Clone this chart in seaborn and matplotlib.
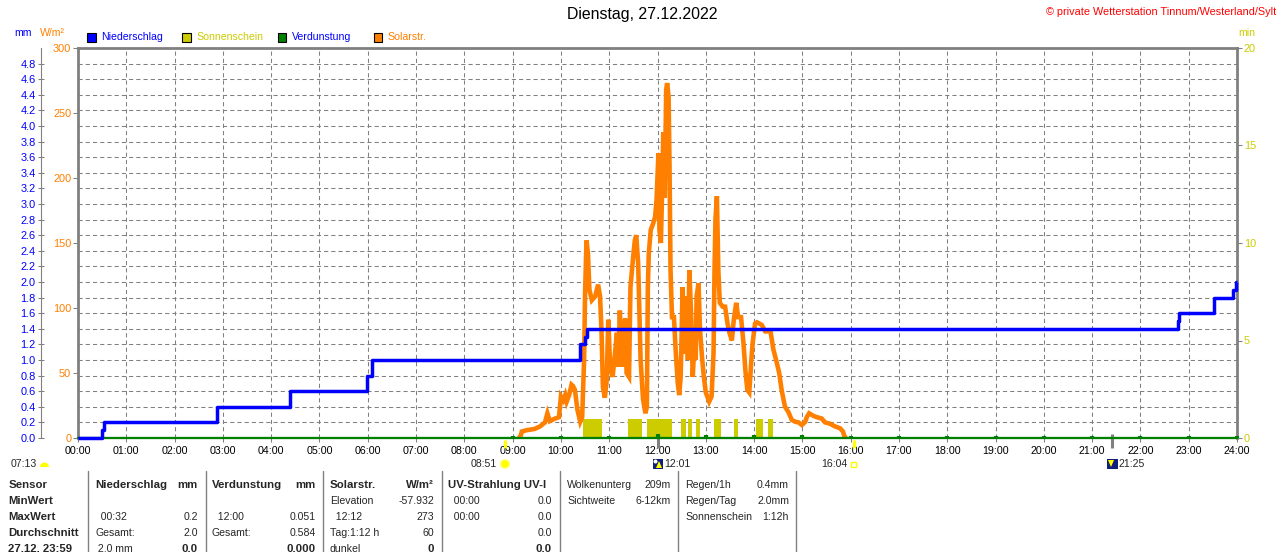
import matplotlib
matplotlib.use("Agg")
import matplotlib.pyplot as plt
import matplotlib.patches as mpatches
import matplotlib.transforms as mtransforms
from matplotlib.lines import Line2D
from matplotlib.ticker import MultipleLocator
import numpy as np
import pandas as pd
import seaborn as sns

# ---------------- data ----------------
title = "Dienstag, 27.12.2022"
credit = "© private Wetterstation Tinnum/Westerland/Sylt"

hour_ticks = [0, 1, 2, 3, 4, 5, 6, 7, 8, 9, 10, 11, 12, 13, 14, 15, 16, 17, 18, 19, 20, 21, 22, 23, 24]
hour_labels = ["00:00", "01:00", "02:00", "03:00", "04:00", "05:00", "06:00", "07:00", "08:00",
               "09:00", "10:00", "11:00", "12:00", "13:00", "14:00", "15:00", "16:00", "17:00",
               "18:00", "19:00", "20:00", "21:00", "22:00", "23:00", "24:00"]

mm_ticks = [0.0, 0.2, 0.4, 0.6, 0.8, 1.0, 1.2, 1.4, 1.6, 1.8, 2.0, 2.2, 2.4, 2.6, 2.8, 3.0,
            3.2, 3.4, 3.6, 3.8, 4.0, 4.2, 4.4, 4.6, 4.8]
wm2_ticks = [0, 50, 100, 150, 200, 250, 300]
min_ticks = [0, 5, 10, 15, 20]

# Solar radiation (W/m²) – time in decimal hours
solar_hours = [9.13, 9.17, 9.19, 9.29, 9.38, 9.46, 9.57, 9.67, 9.72, 9.77, 9.88, 9.96,
               10.00, 10.05, 10.09, 10.12, 10.17, 10.22, 10.25, 10.29, 10.34, 10.40, 10.44, 10.48,
               10.50, 10.53, 10.56, 10.59, 10.64, 10.71, 10.77, 10.81, 10.84, 10.87, 10.91, 10.95, 10.98,
               11.02, 11.07, 11.12, 11.16, 11.19, 11.22, 11.26, 11.29, 11.33, 11.36, 11.41, 11.44,
               11.49, 11.53, 11.56, 11.60, 11.65, 11.70, 11.75, 11.78, 11.80, 11.82, 11.86, 11.91,
               11.95, 11.98,
               12.02, 12.04, 12.07, 12.09, 12.12, 12.15, 12.18, 12.20, 12.23, 12.25, 12.27, 12.30,
               12.34, 12.38, 12.42, 12.45, 12.48, 12.52, 12.55, 12.59, 12.63, 12.66, 12.70, 12.73,
               12.76, 12.79, 12.81, 12.85, 12.88, 12.92, 12.96,
               13.00, 13.07, 13.12, 13.16, 13.18, 13.20, 13.23, 13.26, 13.29, 13.35, 13.40, 13.45,
               13.49, 13.54, 13.58, 13.63, 13.67, 13.73, 13.78, 13.82, 13.86, 13.90, 13.94, 13.97,
               14.02, 14.06, 14.11, 14.16, 14.23, 14.34, 14.40, 14.47, 14.52, 14.57, 14.64, 14.71,
               14.78, 14.85, 14.92, 14.99,
               15.06, 15.09, 15.14, 15.23, 15.30, 15.40, 15.47, 15.57, 15.67, 15.78, 15.84, 15.87, 15.90]
solar_wm2 = [0, 2, 5, 6, 6.5, 7, 9, 12, 19, 13, 15, 16,
             32, 29, 33, 28, 33, 41, 40, 37, 22, 12.5, 16, 60,
             111, 152, 142, 114, 106, 109, 118, 109, 83, 39, 31, 45, 91,
             55, 47, 65, 81, 55, 98, 55, 75, 92, 50, 47, 116,
             137, 152, 156, 134, 60, 30, 19, 24, 116, 142, 160, 165,
             170, 183,
             219, 160, 150, 181, 235, 185, 268, 273, 262, 206, 129, 93,
             93, 65, 42, 33, 47, 116, 65, 109, 60, 129, 91, 47,
             70, 60, 109, 119, 83, 63, 47,
             35, 28, 32, 65, 127, 168, 186, 129, 104, 101, 101, 88,
             81, 75, 91, 104, 93, 93, 73, 52, 37, 35, 58, 73,
             88, 89, 88, 87, 82, 82, 68, 58, 50, 37, 24, 20,
             14, 12.5, 12, 10,
             12.5, 16, 19, 17, 16, 15, 12, 11, 9, 7.5, 5, 1.5, 0]

# Cumulative precipitation (mm)
rain_hours = [0.0, 0.50, 0.53, 2.87, 4.38, 5.98, 6.08, 10.40, 10.50, 10.53,
              22.78, 22.80, 23.52, 23.92, 23.97, 24.0]
rain_mm = [0.0, 0.1, 0.2, 0.4, 0.6, 0.8, 1.0, 1.2, 1.3, 1.4,
           1.5, 1.6, 1.8, 1.9, 2.0, 2.0]

# Sunshine (minutes) intervals
sun_start = [10.46, 11.39, 11.78, 12.49, 12.64, 12.80, 13.18, 13.59, 14.05, 14.29]
sun_end = [10.85, 11.67, 12.29, 12.58, 12.71, 12.88, 13.32, 13.67, 14.18, 14.39]
sun_minutes = [1, 1, 1, 1, 1, 1, 1, 1, 1, 1]

# Evaporation (mm per hour)
evap_hours = [1, 2, 3, 4, 5, 6, 7, 8, 9, 10, 11, 12, 13, 14, 15, 16, 17, 18, 19, 20, 21, 22, 23, 24]
evap_mm = [0.015, 0.015, 0.015, 0.015, 0.015, 0.015, 0.015, 0.015, 0.02, 0.025, 0.02, 0.051,
           0.04, 0.04, 0.04, 0.025, 0.025, 0.025, 0.025, 0.025, 0.025, 0.025, 0.025, 0.025]

# Sun / moon events
event_labels = ["07:13", "08:51", "12:01", "16:04", "21:25"]
event_hours = [7.217, 8.85, 12.017, 16.067, 21.417]

# Table
sensor_col = ["Sensor", "MinWert", "MaxWert", "Durchschnitt", "27.12. 23:59"]
rain_left = ["Niederschlag", "", "  00:32", "Gesamt:", " 2.0 mm"]
rain_right = ["mm", "", "0.2", "2.0", "0.0"]
evap_left = ["Verdunstung", "", "  12:00", "Gesamt:", ""]
evap_right = ["mm", "", "0.051", "0.584", "0.000"]
solar_left = ["Solarstr.", "Elevation", "  12:12", "Tag:1:12 h", "dunkel"]
solar_right = ["W/m²", "-57.932", "273", "60", "0"]
uv_left = ["UV-Strahlung UV-I", "  00:00", "  00:00", "", ""]
uv_right = ["", "0.0", "0.0", "0.0", "0.0"]
cloud_left = ["Wolkenunterg", "Sichtweite"]
cloud_right = ["209m", "6-12km"]
regen_left = ["Regen/1h", "Regen/Tag", "Sonnenschein"]
regen_right = ["0.4mm", "2.0mm", "1:12h"]

# ---------------- style ----------------
BLUE = "#0000ff"
ORANGE = "#ff8000"
YELLOW = "#cccc00"
GREEN = "#008000"
GRAY = "#808080"

sns.set_theme(style="white")
plt.rcParams["font.family"] = ["Liberation Sans", "DejaVu Sans"]
plt.rcParams["lines.scale_dashes"] = False

W, H = 1280, 552
fig = plt.figure(figsize=(W / 100, H / 100), dpi=100)
fig.patch.set_facecolor("white")


def fx(x):
    return x / W


def fy(y):
    return 1 - y / H


L, R, T, B = 78, 1237, 48, 438
ax_sun = fig.add_axes([fx(L), fy(B), (R - L) / W, (B - T) / H])
ax_sol = ax_sun.twinx()
ax_mm = ax_sun.twinx()
ax_sun.set_zorder(0)
ax_sol.set_zorder(1)
ax_mm.set_zorder(2)
ax_sun.patch.set_facecolor("white")
ax_sol.patch.set_visible(False)
ax_mm.patch.set_visible(False)

# sunshine bars
widths = [e - s for s, e in zip(sun_start, sun_end)]
ax_sun.bar(sun_start, sun_minutes, width=widths, align="edge", color=YELLOW, linewidth=0, zorder=2)

# solar radiation
solar_df = pd.DataFrame({"Zeit": solar_hours, "Solar": solar_wm2})
sns.lineplot(data=solar_df, x="Zeit", y="Solar", ax=ax_sol, color=ORANGE, linewidth=3.3,
             errorbar=None, solid_joinstyle="miter")

# evaporation
ax_mm.axhline(0, color=GREEN, linewidth=1.6, zorder=1, clip_on=False)
ax_mm.vlines(evap_hours, 0, evap_mm, colors=GREEN, linewidth=3.0, zorder=1, clip_on=False)

# precipitation
rain_df = pd.DataFrame({"Zeit": rain_hours, "Niederschlag": rain_mm})
sns.lineplot(data=rain_df, x="Zeit", y="Niederschlag", ax=ax_mm, color=BLUE, linewidth=2.5,
             drawstyle="steps-post", errorbar=None, zorder=3, clip_on=False,
             solid_capstyle="butt")

for a in (ax_sun, ax_sol, ax_mm):
    a.set_xlabel("")
    a.set_ylabel("")
    for s in a.spines.values():
        s.set_visible(False)

ax_sun.set_xlim(0, 24)
ax_sun.set_ylim(0, 20)
ax_sol.set_ylim(0, 300)
ax_mm.set_ylim(0, 5)

# grid
dash = (0, (3.0, 2.2))
ax_sun.set_xticks(hour_ticks)
ax_sun.set_xticklabels(hour_labels)
ax_sun.grid(axis="x", which="major", color=GRAY, linewidth=0.75, linestyle=dash)
ax_sun.yaxis.set_minor_locator(MultipleLocator(0.8))
ax_sun.grid(axis="y", which="minor", color=GRAY, linewidth=0.75, linestyle=dash)
ax_sun.grid(axis="y", which="major", visible=False)
ax_sun.set_axisbelow(True)

# spines
for side in ("top", "right"):
    ax_sun.spines[side].set_visible(True)
    ax_sun.spines[side].set_color(GRAY)
    ax_sun.spines[side].set_linewidth(2.0)
ax_sun.spines["bottom"].set_visible(True)
ax_sun.spines["bottom"].set_color(GRAY)
ax_sun.spines["bottom"].set_linewidth(1.5)
ax_sol.spines["left"].set_visible(True)
ax_sol.spines["left"].set_color(GRAY)
ax_sol.spines["left"].set_linewidth(2.0)
ax_mm.spines["left"].set_visible(True)
ax_mm.spines["left"].set_color(GRAY)
ax_mm.spines["left"].set_linewidth(0.8)
ax_mm.spines["left"].set_position(("outward", 26.9))

# ticks
ax_sun.tick_params(axis="x", which="major", bottom=True, length=3, width=0.75, color=GRAY,
                   labelsize=7.7, labelcolor="black", pad=3, direction="out")
ax_sun.yaxis.tick_right()
ax_sun.set_yticks(min_ticks)
ax_sun.tick_params(axis="y", which="major", right=True, left=False, length=3.6, width=0.75,
                   color=GRAY, labelcolor=YELLOW, labelsize=7.9, pad=1.2)
ax_sun.tick_params(axis="y", which="minor", length=0, left=False, right=False)

ax_sol.yaxis.tick_left()
ax_sol.set_yticks(wm2_ticks)
ax_sol.tick_params(axis="y", left=True, right=False, length=3.6, width=0.75, color=GRAY,
                   labelcolor=ORANGE, labelsize=7.9, pad=1.2)

ax_mm.yaxis.tick_left()
ax_mm.set_yticks(mm_ticks)
ax_mm.set_yticklabels([f"{v:.1f}" for v in mm_ticks])
ax_mm.tick_params(axis="y", left=True, right=False, direction="inout", length=5, width=0.75,
                  color=GRAY, labelcolor=BLUE, labelsize=7.9, pad=1.2)

# ---------------- header ----------------
fig.text(fx(642), fy(15), title, ha="center", va="center", fontsize=11.4, color="black")
fig.text(fx(1276), fy(12), credit, ha="right", va="center", fontsize=7.8, color="#ff0000")
fig.text(fx(14), fy(33), "mm", ha="left", va="center", fontsize=7.6, color=BLUE)
fig.text(fx(40), fy(33), "W/m²", ha="left", va="center", fontsize=7.6, color=ORANGE)
fig.text(fx(1238), fy(33), "min", ha="left", va="center", fontsize=7.6, color=YELLOW)

legend_items = [("Niederschlag", BLUE, BLUE, 87), ("Sonnenschein", YELLOW, YELLOW, 182),
                ("Verdunstung", GREEN, BLUE, 277.5), ("Solarstr.", ORANGE, ORANGE, 373.5)]
for name, fc, tc, x0 in legend_items:
    fig.patches.append(mpatches.Rectangle((fx(x0), fy(42)), 8.5 / W, 8.5 / H,
                                          transform=fig.transFigure, facecolor=fc,
                                          edgecolor="black", linewidth=0.8))
    fig.text(fx(x0 + 14), fy(37.5), name, ha="left", va="center", fontsize=7.6, color=tc)

# ---------------- sun / moon events ----------------
tr = mtransforms.blended_transform_factory(ax_sun.transData, fig.transFigure)
tick_colors = [None, "#ffff00", GRAY, "#ffff00", GRAY]
tick_tops = [0, 440, 435, 440, 434]
for h, c, t in zip(event_hours, tick_colors, tick_tops):
    if c is None:
        continue
    ax_sun.vlines([h], fy(448), fy(t), colors=c, linewidth=2.2, transform=tr, clip_on=False,
                  zorder=5)

ident = mtransforms.IdentityTransform()
# 07:13
fig.text(fx(11), fy(464), event_labels[0], ha="left", va="center", fontsize=7.6)
fig.patches.append(mpatches.Wedge((44.5, H - 467), 4.5, 0, 180, transform=ident,
                                  facecolor="#ffff00", edgecolor="none"))
# 08:51
fig.text(fx(497), fy(464), event_labels[1], ha="right", va="center", fontsize=7.6)
fig.patches.append(mpatches.Circle((505, H - 464), 4.5, transform=ident,
                                   facecolor="#ffff00", edgecolor="#ffff99", linewidth=1.0))
# 12:01
fig.patches.append(mpatches.Rectangle((653, H - 469), 10, 10, transform=ident,
                                      facecolor="#10207a", edgecolor="none"))
fig.patches.append(mpatches.Circle((655.5, H - 461.5), 2.0, transform=ident,
                                   facecolor="white", edgecolor="none"))
fig.patches.append(mpatches.Polygon([(656, H - 468), (662, H - 468), (659, H - 461)],
                                    closed=True, transform=ident, facecolor="#ffff00",
                                    edgecolor="none"))
fig.text(fx(664), fy(464), event_labels[2], ha="left", va="center", fontsize=7.6)
# 16:04
fig.text(fx(847), fy(464), event_labels[3], ha="right", va="center", fontsize=7.6)
fig.patches.append(mpatches.Rectangle((851, H - 466.5), 4.5, 4.5, transform=ident,
                                      facecolor="none", edgecolor="#ffff00", linewidth=1.0))
# 21:25
fig.patches.append(mpatches.Rectangle((1107, H - 469), 11, 10, transform=ident,
                                      facecolor="#10207a", edgecolor="none"))
fig.patches.append(mpatches.Polygon([(1108, H - 460), (1114, H - 460), (1111, H - 467)],
                                    closed=True, transform=ident, facecolor="#ffff00",
                                    edgecolor="none"))
fig.text(fx(1118.5), fy(464), event_labels[4], ha="left", va="center", fontsize=7.6)

# ---------------- table ----------------
row_y = [484.5, 500.5, 516.5, 532.5, 548.5]
for x in [88, 205.5, 323, 441.5, 559.5, 677.5, 795.5]:
    fig.lines.append(Line2D([fx(x), fx(x)], [fy(471), fy(552)], transform=fig.transFigure,
                            color=GRAY, linewidth=1.0))

REG = 7.6
BOLD = 8.2
for i, s in enumerate(sensor_col):
    fig.text(fx(8.5), fy(row_y[i]), s, ha="left", va="center", fontsize=BOLD, fontweight="bold")

columns = [(rain_left, rain_right, 95, 198), (evap_left, evap_right, 212, 316),
           (solar_left, solar_right, 330, 434), (uv_left, uv_right, 448, 552)]
for lefts, rights, xl, xr in columns:
    for i, (lt, rt) in enumerate(zip(lefts, rights)):
        head = i == 0
        last = i == len(lefts) - 1
        if lt:
            fig.text(fx(xl), fy(row_y[i]), lt, ha="left", va="center",
                     fontsize=BOLD if head else REG, fontweight="bold" if head else "normal")
        if rt:
            b = head or last
            fig.text(fx(xr), fy(row_y[i]), rt, ha="right", va="center",
                     fontsize=BOLD if b else REG, fontweight="bold" if b else "normal")

for lefts, rights, xl, xr in [(cloud_left, cloud_right, 567, 671),
                              (regen_left, regen_right, 685, 789)]:
    for i, (lt, rt) in enumerate(zip(lefts, rights)):
        fig.text(fx(xl), fy(row_y[i]), lt, ha="left", va="center", fontsize=REG)
        fig.text(fx(xr), fy(row_y[i]), rt, ha="right", va="center", fontsize=REG)

fig.savefig("out.png", dpi=100, facecolor="white")
